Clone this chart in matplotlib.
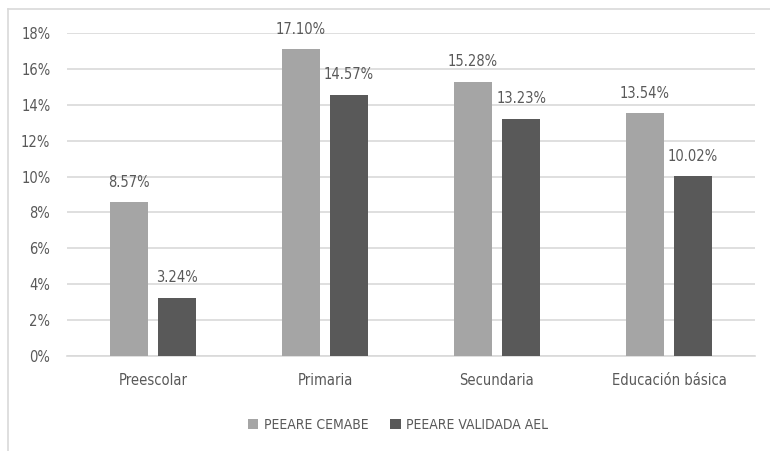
import numpy as np
import matplotlib.pyplot as plt
from matplotlib.lines import Line2D

# data
categorias = ['Preescolar', 'Primaria', 'Secundaria', 'Educación básica']
cemabe = [8.57, 17.10, 15.28, 13.54]
validada = [3.24, 14.57, 13.23, 10.02]
series_names = ['PEEARE CEMABE', 'PEEARE VALIDADA AEL']

plt.rcParams['font.family'] = ['DejaVu Sans']
plt.rcParams['font.stretch'] = 'condensed'

txt = '#595959'
c_light = '#a5a5a5'
c_dark = '#595959'
grid = '#d9d9d9'
fs = 10.5

fig = plt.figure(figsize=(7.7, 4.51), dpi=100)
ax = fig.add_axes([67 / 770, 95 / 451, 688 / 770, 323 / 451])

x = np.arange(len(categorias))
w = 0.22
off = 0.14
b1 = ax.bar(x - off, cemabe, w, color=c_light, label=series_names[0], zorder=3)
b2 = ax.bar(x + off, validada, w, color=c_dark, label=series_names[1], zorder=3)

for bars, vals in [(b1, cemabe), (b2, validada)]:
    for r, v in zip(bars, vals):
        ax.annotate(f'{v:.2f}%', (r.get_x() + r.get_width() / 2, v),
                    xytext=(0, 9), textcoords='offset points',
                    ha='center', va='bottom', fontsize=fs, color=txt)

ax.set_xlim(-0.5, len(categorias) - 0.5)
ax.set_ylim(0, 18)
ax.set_yticks(np.arange(0, 19, 2))
ax.set_yticklabels([f'{t}%' for t in range(0, 19, 2)])
ax.set_xticks(x)
ax.set_xticklabels(categorias)
ax.yaxis.grid(True, color=grid, linewidth=1.2, zorder=0)
ax.tick_params(axis='both', length=0, labelsize=fs, labelcolor=txt)
ax.tick_params(axis='y', pad=12)
ax.tick_params(axis='x', pad=12)
for s in ['top', 'right', 'left']:
    ax.spines[s].set_visible(False)
ax.spines['bottom'].set_color(grid)
ax.spines['bottom'].set_linewidth(1.2)

leg = fig.legend(loc='center', bbox_to_anchor=(398 / 770, 1 - 425 / 451), ncol=2,
                 frameon=False, fontsize=10, handlelength=0.75, handleheight=0.75,
                 handletextpad=0.4, columnspacing=1.6)
for t in leg.get_texts():
    t.set_color(txt)

# outer frame (partly cropped)
fig.add_artist(Line2D([8 / 770, 1], [1 - 9 / 451, 1 - 9 / 451], color=grid, lw=1.2))
fig.add_artist(Line2D([8 / 770, 8 / 770], [0, 1 - 9 / 451], color=grid, lw=1.2))

fig.savefig('out.png', dpi=100)
